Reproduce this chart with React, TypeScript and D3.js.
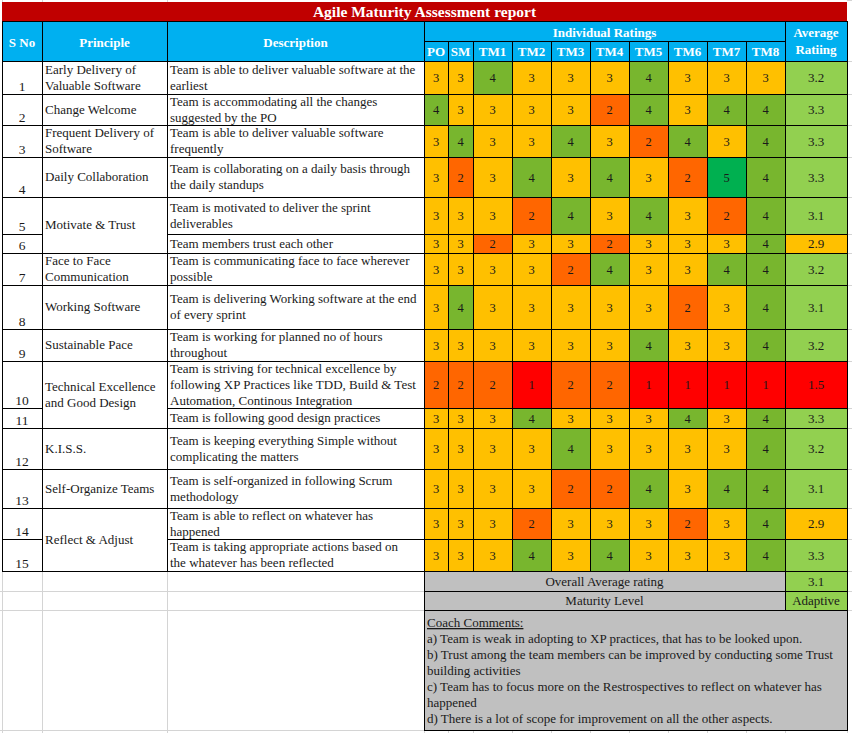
import React from "react";
import * as d3 from "d3";

// ---------------- DATA ----------------
const reportTitle = "Agile Maturity Assessment report";
const raters = ["PO", "SM", "TM1", "TM2", "TM3", "TM4", "TM5", "TM6", "TM7", "TM8"];
const serialNos = [1, 2, 3, 4, 5, 6, 7, 8, 9, 10, 11, 12, 13, 14, 15];
const principleLabels = [
  "Early Delivery of\nValuable Software",
  "Change Welcome",
  "Frequent Delivery of\nSoftware",
  "Daily Collaboration",
  "Motivate & Trust",
  "Face to Face\nCommunication",
  "Working Software",
  "Sustainable Pace",
  "Technical Excellence\nand Good Design",
  "K.I.S.S.",
  "Self-Organize Teams",
  "Reflect & Adjust",
];
const principleSpans = [1, 1, 1, 1, 2, 1, 1, 1, 2, 1, 1, 2];
const descriptions = [
  "Team is able to deliver valuable software at the\nearliest",
  "Team is accommodating all the changes\nsuggested by the PO",
  "Team is able to deliver valuable software\nfrequently",
  "Team is collaborating on a daily basis through\nthe daily standups",
  "Team is motivated to deliver the sprint\ndeliverables",
  "Team members trust each other",
  "Team is communicating face to face wherever\npossible",
  "Team is delivering Working software at the end\nof every sprint",
  "Team is working for planned no of hours\nthroughout",
  "Team is striving for technical excellence by\nfollowing XP Practices like TDD, Build & Test\nAutomation, Continous Integration",
  "Team is following good design practices",
  "Team is keeping everything Simple without\ncomplicating the matters",
  "Team is self-organized in following Scrum\nmethodology",
  "Team is able to reflect on whatever has\nhappened",
  "Team is taking appropriate actions based on\nthe whatever has been reflected",
];
const ratings = [
  [3, 3, 4, 3, 3, 3, 4, 3, 3, 3],
  [4, 3, 3, 3, 3, 2, 4, 3, 4, 4],
  [3, 4, 3, 3, 4, 3, 2, 4, 3, 4],
  [3, 2, 3, 4, 3, 4, 3, 2, 5, 4],
  [3, 3, 3, 2, 4, 3, 4, 3, 2, 4],
  [3, 3, 2, 3, 3, 2, 3, 3, 3, 4],
  [3, 3, 3, 3, 2, 4, 3, 3, 4, 4],
  [3, 4, 3, 3, 3, 3, 3, 2, 3, 4],
  [3, 3, 3, 3, 3, 3, 4, 3, 3, 4],
  [2, 2, 2, 1, 2, 2, 1, 1, 1, 1],
  [3, 3, 3, 4, 3, 3, 3, 4, 3, 4],
  [3, 3, 3, 3, 4, 3, 3, 3, 3, 4],
  [3, 3, 3, 3, 2, 2, 4, 3, 4, 4],
  [3, 3, 3, 2, 3, 3, 3, 2, 3, 4],
  [3, 3, 3, 4, 3, 4, 3, 3, 3, 4],
];
const averages = [3.2, 3.3, 3.3, 3.3, 3.1, 2.9, 3.2, 3.1, 3.2, 1.5, 3.3, 3.2, 3.1, 2.9, 3.3];
const overallAverage = 3.1;
const maturityLevel = "Adaptive";
const commentTitle = "Coach Comments:";
const commentLines = [
  "a) Team is weak in adopting to XP practices, that has to be looked upon.",
  "b) Trust among the team members can be improved by conducting some Trust",
  "building activities",
  "c) Team has to focus more on the Restrospectives to reflect on whatever has",
  "happened",
  "d) There is a lot of scope for improvement on all the other aspects.",
];

// ---------------- LAYOUT ----------------
const W = 852;
const H = 733;
const FONT = "'Liberation Serif', 'Times New Roman', serif";
const colEdges = [2, 42, 167, 424, 448, 473, 512, 551, 590, 629, 668, 707, 746, 785, 847];
const titleTop = 2, hdr1 = 21, hdr2 = 41, dataTop = 61;
const rowEdges = [61, 94, 125, 157, 197, 234, 253, 285, 329, 361, 408, 428, 469, 508, 539, 571];
const overallBottom = 591, maturityBottom = 610, commentsBottom = 730;
const LINE_H = 16;

const ratingColor = d3
  .scaleOrdinal<number, string>()
  .domain([1, 2, 3, 4, 5])
  .range(["#FF0000", "#FF6600", "#FFC000", "#78B62E", "#00B050"]);
const averageColor = d3
  .scaleThreshold<number, string>()
  .domain([2, 3])
  .range(["#FF0000", "#FFC000", "#92D050"]);

const ratingX = d3.scaleOrdinal<string, number>().domain(raters).range(colEdges.slice(3, 13));
const ratingW = (r: string) => colEdges[raters.indexOf(r) + 4] - colEdges[raters.indexOf(r) + 3];

const GRID = "#D4D4D4";
const TXT = "#1a1a1a";

function MultiLine({ text, x, cy, anchor = "start", size = 13 }: any) {
  const lines = String(text).split("\n");
  const y0 = cy - ((lines.length - 1) * LINE_H) / 2 + size * 0.34;
  return (
    <text x={x} y={y0} textAnchor={anchor} fontFamily={FONT} fontSize={size} fill={TXT}>
      {lines.map((l, i) => (
        <tspan key={i} x={x} y={y0 + i * LINE_H}>
          {l}
        </tspan>
      ))}
    </text>
  );
}

export default function App() {
  const [c0, c1, c2, c3] = colEdges;
  const avgL = colEdges[13], avgR = colEdges[14];

  // principle groups
  let acc = 0;
  const groups = principleLabels.map((label, i) => {
    const start = acc;
    acc += principleSpans[i];
    return { label, top: rowEdges[start], bottom: rowEdges[acc] };
  });

  const cell = (x0: number, y0: number, x1: number, y1: number, fill: string, key: string) => (
    <rect key={key} x={x0} y={y0} width={x1 - x0} height={y1 - y0} fill={fill} stroke="#000" strokeWidth={1} />
  );

  return (
    <div style={{ position: "absolute", left: 0, top: 0, width: W, height: H, background: "#fff" }}>
      <svg width={W} height={H} shapeRendering="crispEdges" style={{ display: "block" }}>
        <rect x={0} y={0} width={W} height={H} fill="#fff" />
        {/* excel gridlines in empty area */}
        <g stroke={GRID} strokeWidth={1}>
          {[c0, c1, c2].map((x, i) => (
            <line key={"gv" + i} x1={x + 0.5} x2={x + 0.5} y1={0} y2={H} />
          ))}
          {[overallBottom, maturityBottom, commentsBottom].map((y, i) => (
            <line key={"gh" + i} x1={0} x2={c3} y1={y + 0.5} y2={y + 0.5} />
          ))}
          {colEdges.slice(3).map((x, i) => (
            <line key={"gb" + i} x1={x + 0.5} x2={x + 0.5} y1={commentsBottom} y2={H} />
          ))}
          {[0, ...rowEdges, overallBottom, maturityBottom].map((y, i) => (
            <line key={"gr" + i} x1={avgR} x2={W} y1={y + 0.5} y2={y + 0.5} />
          ))}
        </g>

        {/* title */}
        <rect x={c0} y={titleTop} width={avgR - c0} height={hdr1 - titleTop} fill="#C00000" />
        <text x={(c0 + avgR) / 2} y={17} textAnchor="middle" fontFamily={FONT} fontSize={15.5} fontWeight="bold" fill="#fff">
          {reportTitle}
        </text>

        {/* header */}
        <g>
          {cell(c0, hdr1, c1, dataTop, "#00B0F0", "h-sno")}
          {cell(c1, hdr1, c2, dataTop, "#00B0F0", "h-pr")}
          {cell(c2, hdr1, c3, dataTop, "#00B0F0", "h-de")}
          {cell(c3, hdr1, avgL, hdr2, "#00B0F0", "h-ir")}
          {raters.map((r) => cell(ratingX(r), hdr2, ratingX(r) + ratingW(r), dataTop, "#00B0F0", "h-" + r))}
          {cell(avgL, hdr1, avgR, dataTop, "#00B0F0", "h-av")}
        </g>
        <g fontFamily={FONT} fontSize={13} fontWeight="bold" fill="#fff" textAnchor="middle">
          <text x={(c0 + c1) / 2} y={46.5}>S No</text>
          <text x={(c1 + c2) / 2} y={46.5}>Principle</text>
          <text x={(c2 + c3) / 2} y={46.5}>Description</text>
          <text x={(c3 + avgL) / 2} y={36.5}>Individual Ratings</text>
          {raters.map((r) => (
            <text key={"t" + r} x={ratingX(r) + ratingW(r) / 2} y={56}>
              {r}
            </text>
          ))}
          <text x={(avgL + avgR) / 2} y={37}>Average</text>
          <text x={(avgL + avgR) / 2} y={53.5}>Ratiing</text>
        </g>

        {/* data rows */}
        {serialNos.map((sn, i) => {
          const top = rowEdges[i], bottom = rowEdges[i + 1];
          const cy = (top + bottom) / 2;
          return (
            <g key={"row" + sn}>
              {cell(c0, top, c1, bottom, "#fff", "sn")}
              <text x={(c0 + c1) / 2} y={bottom - 3.5} textAnchor="middle" fontFamily={FONT} fontSize={13.5} fill={TXT}>
                {sn}
              </text>
              {cell(c2, top, c3, bottom, "#fff", "de")}
              <MultiLine text={descriptions[i]} x={c2 + 3} cy={cy} />
              {raters.map((r, j) => (
                <g key={"c" + r}>
                  {cell(ratingX(r), top, ratingX(r) + ratingW(r), bottom, ratingColor(ratings[i][j]), "r")}
                  <text x={ratingX(r) + ratingW(r) / 2} y={cy + 4.5} textAnchor="middle" fontFamily={FONT} fontSize={12.5} fill={TXT}>
                    {ratings[i][j]}
                  </text>
                </g>
              ))}
              {cell(avgL, top, avgR, bottom, averageColor(averages[i]), "av")}
              <text x={(avgL + avgR) / 2} y={cy + 4.5} textAnchor="middle" fontFamily={FONT} fontSize={13} fill={TXT}>
                {d3.format(".1f")(averages[i])}
              </text>
            </g>
          );
        })}

        {/* principle merged cells */}
        {groups.map((g, i) => (
          <g key={"pg" + i}>
            {cell(c1, g.top, c2, g.bottom, "#fff", "p")}
            <MultiLine text={g.label} x={c1 + 3} cy={(g.top + g.bottom) / 2} />
          </g>
        ))}

        {/* overall & maturity */}
        {cell(c3, rowEdges[15], avgL, overallBottom, "#C0C0C0", "ov")}
        {cell(avgL, rowEdges[15], avgR, overallBottom, averageColor(overallAverage), "ovv")}
        {cell(c3, overallBottom, avgL, maturityBottom, "#C0C0C0", "ml")}
        {cell(avgL, overallBottom, avgR, maturityBottom, averageColor(overallAverage), "mlv")}
        <g fontFamily={FONT} fontSize={13} fill={TXT} textAnchor="middle">
          <text x={(c3 + avgL) / 2} y={(rowEdges[15] + overallBottom) / 2 + 4.5}>Overall Average rating</text>
          <text x={(avgL + avgR) / 2} y={(rowEdges[15] + overallBottom) / 2 + 4.5}>
            {d3.format(".1f")(overallAverage)}
          </text>
          <text x={(c3 + avgL) / 2} y={(overallBottom + maturityBottom) / 2 + 4.5}>Maturity Level</text>
          <text x={(avgL + avgR) / 2} y={(overallBottom + maturityBottom) / 2 + 4.5}>{maturityLevel}</text>
        </g>

        {/* comments */}
        {cell(c3, maturityBottom, avgR, commentsBottom, "#C0C0C0", "cm")}
        <g fontFamily={FONT} fontSize={13} fill={TXT}>
          <text x={c3 + 3} y={627} style={{ textDecoration: "underline" }}>
            {commentTitle}
          </text>
          {commentLines.map((l, i) => (
            <text key={"cl" + i} x={c3 + 3} y={643 + i * 16}>
              {l}
            </text>
          ))}
        </g>
      </svg>
    </div>
  );
}
